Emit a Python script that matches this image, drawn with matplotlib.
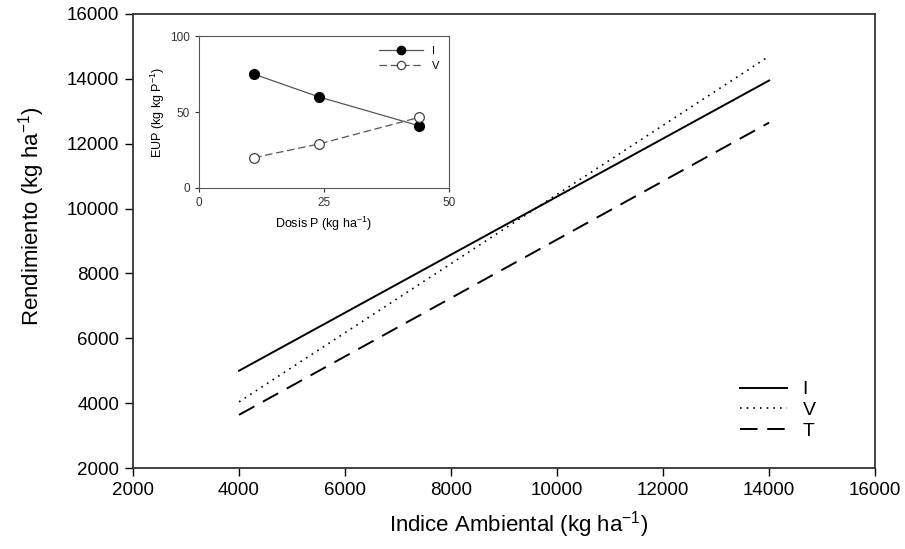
import matplotlib
matplotlib.use('Agg')
import matplotlib.pyplot as plt

plt.rcParams['font.family'] = ['Liberation Sans', 'DejaVu Sans']
plt.rcParams['mathtext.fontset'] = 'custom'
plt.rcParams['mathtext.rm'] = 'Liberation Sans'
plt.rcParams['mathtext.it'] = 'Liberation Sans'

# main lines: endpoints of fitted regressions
ia = [4000, 14000]
rend_I = [5000, 13950]
rend_V = [4040, 14700]
rend_T = [3640, 12650]

# inset: EUP vs P dose
dosis = [11, 24, 44]
eup_I = [75, 60, 41]
eup_V = [20, 29, 46.5]

fig = plt.figure(figsize=(9.05, 5.49), dpi=100)
ax = fig.add_axes([0.147, 0.1475, 0.82, 0.827])

ax.plot(ia, rend_I, color='black', lw=1.4, ls='-', label='I')
ax.plot(ia, rend_V, color='black', lw=1.2, ls=(0, (1, 3)), label='V')
ax.plot(ia, rend_T, color='black', lw=1.4, ls=(0, (9, 5)), label='T')

ax.set_xlim(2000, 16000)
ax.set_ylim(2000, 16000)
ax.set_xticks(range(2000, 16001, 2000))
ax.set_yticks(range(2000, 16001, 2000))
ax.tick_params(direction='out', length=6, width=1, labelsize=13.5, pad=4)
for s in ax.spines.values():
    s.set_linewidth(1.3)
    s.set_color('#333333')
ax.set_xlabel('Indice Ambiental (kg ha$^{-1}$)', fontsize=16)
ax.set_ylabel('Rendimiento (kg ha$^{-1}$)', fontsize=16)
ax.xaxis.set_label_coords(0.52, -0.09)
ax.yaxis.set_label_coords(-0.116, 0.555)

ax.legend(loc='lower right', bbox_to_anchor=(0.93, 0.045), borderaxespad=0,
          frameon=False, fontsize=14, handlelength=2.4, handletextpad=0.8,
          labelspacing=0.16)

# inset
ins = fig.add_axes([0.22, 0.6576, 0.276, 0.2764])
ins.plot(dosis, eup_I, color='#555555', lw=0.9, ls='-', marker='o',
         ms=7, mfc='black', mec='black', label='I')
ins.plot(dosis, eup_V, color='#555555', lw=0.9, ls=(0, (6, 3)), marker='o',
         ms=7, mfc='white', mec='#444444', mew=0.9, label='V')
ins.set_xlim(0, 50)
ins.set_ylim(0, 100)
ins.set_xticks([0, 25, 50])
ins.set_yticks([0, 50, 100])
ins.tick_params(direction='out', length=3, width=0.8, labelsize=8.5, colors='#333333')
for s in ins.spines.values():
    s.set_linewidth(0.8)
    s.set_color('#555555')
ins.set_xlabel('Dosis P (kg ha$^{-1}$)', fontsize=9)
ins.set_ylabel('EUP (kg kg P$^{-1}$)', fontsize=9, labelpad=2)
ins.legend(loc='upper right', frameon=False, fontsize=8, handlelength=3.9,
           markerscale=0.85, labelspacing=0.4, handletextpad=0.8,
           borderaxespad=0.5)

fig.savefig('out.png', dpi=100)
